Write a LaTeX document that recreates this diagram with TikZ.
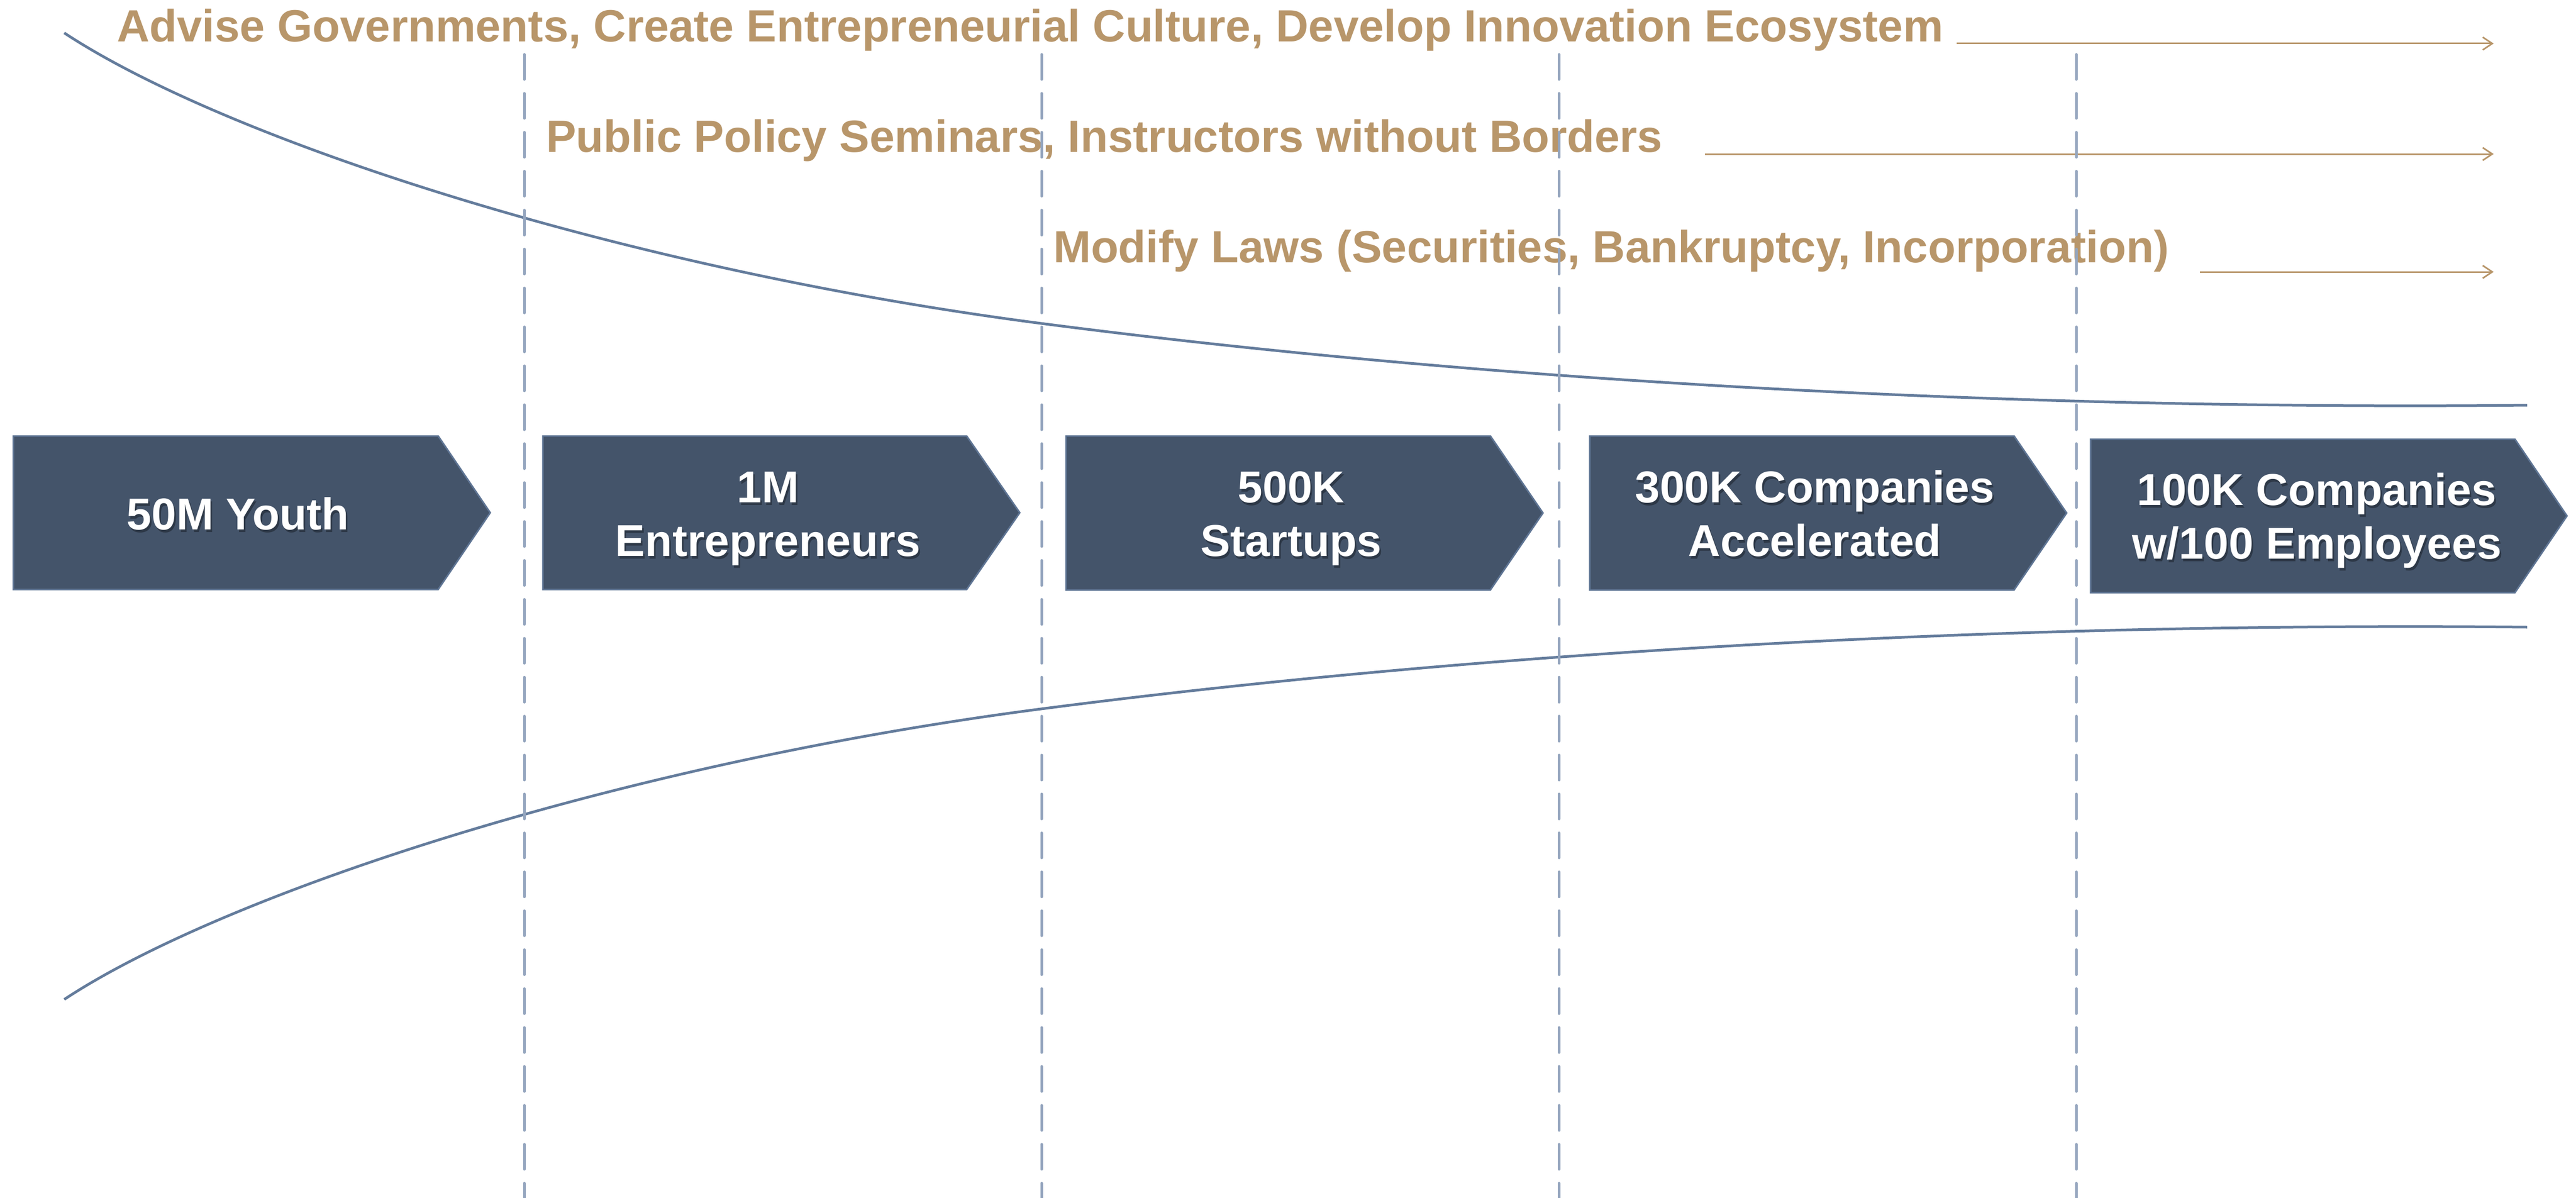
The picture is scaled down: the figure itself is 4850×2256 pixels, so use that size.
\documentclass[tikz,border=0pt]{standalone}
\usepackage{fontspec}
\setmainfont{Liberation Sans}
\usetikzlibrary{arrows.meta}
\definecolor{tancol}{HTML}{B8966A}
\definecolor{boxfill}{HTML}{44546A}
\definecolor{boxedge}{HTML}{5F7594}
\definecolor{curvecol}{HTML}{647C9C}
\definecolor{guidecol}{HTML}{94A5BE}
\begin{document}
\begin{tikzpicture}[x=1pt,y=-1pt,
  toplabel/.style={font=\fontsize{85}{100}\selectfont\bfseries, text=tancol, inner sep=0pt, anchor=base west},
  boxlabel/.style={font=\fontsize{84}{101}\selectfont\bfseries, text=white, inner sep=0pt, align=center, anchor=base},
  shadowlabel/.style={boxlabel, text=black, opacity=0.33},
  chevron/.style={fill=boxfill, draw=boxedge, line width=3pt, line join=miter},
  guide/.style={draw=guidecol, line width=5pt, line cap=round, dash pattern=on 47pt off 26.3pt},
  funnel/.style={draw=curvecol, line width=5pt},
  arr/.style={draw=tancol, line width=3pt, -{Straight Barb[length=18pt,width=24pt]}}]
\useasboundingbox (0,0) rectangle (4850,2256);
\fill[white] (0,0) rectangle (4850,2256);

% funnel curves
\draw[funnel] (121,62) .. controls (421,260) and (1160,505) .. (1960,609)
                       .. controls (2860,726) and (3858,772) .. (4758,763);
\draw[funnel] (121,1882) .. controls (421,1684) and (1160,1439) .. (1960,1335)
                         .. controls (2860,1218) and (3858,1172) .. (4758,1181);

% chevrons
\path[chevron] (25,821) -- (825,821) -- (923,965.5) -- (825,1110) -- (25,1110) -- cycle;
\path[chevron] (1022,821) -- (1820,821) -- (1920,965.5) -- (1820,1110) -- (1022,1110) -- cycle;
\path[chevron] (2007,821) -- (2806,821) -- (2905,966) -- (2806,1111) -- (2007,1111) -- cycle;
\path[chevron] (2993,821) -- (3792,821) -- (3891,966) -- (3792,1111) -- (2993,1111) -- cycle;
\path[chevron] (3936,827) -- (4735,827) -- (4833,971.5) -- (4735,1116) -- (3936,1116) -- cycle;

% box labels with shadows (anchor=base is the last line's baseline)
\node[shadowlabel] (s1) at (451,1002) {50M Youth};
\node[boxlabel] (b1) at (448,997) {50M Youth};
\node[shadowlabel] (s2) at (1449,1052) {1M\\Entrepreneurs};
\node[boxlabel] (b2) at (1446,1047) {1M\\Entrepreneurs};
\node[shadowlabel] (s3) at (2434,1052) {500K\\Startups};
\node[boxlabel] (b3) at (2431,1047) {500K\\Startups};
\node[shadowlabel] (s4) at (3420,1052) {300K Companies\\Accelerated};
\node[boxlabel] (b4) at (3417,1047) {300K Companies\\Accelerated};
\node[shadowlabel] (s5) at (4365,1057) {100K Companies\\w/100 Employees};
\node[boxlabel] (b5) at (4362,1052) {100K Companies\\w/100 Employees};

% top labels and arrows
\node[toplabel] (t1) at (220,79) {Advise Governments, Create Entrepreneurial Culture, Develop Innovation Ecosystem};
\node[toplabel] (t2) at (1028,286) {Public Policy Seminars, Instructors without Borders};
\node[toplabel] (t3) at (1983,494) {Modify Laws (Securities, Bankruptcy, Incorporation)};
\coordinate (a1s) at (3684,82);  \coordinate (a1e) at (4695,82);
\coordinate (a2s) at (3210,290); \coordinate (a2e) at (4695,290);
\coordinate (a3s) at (4142,512); \coordinate (a3e) at (4695,512);
\draw[arr] (a1s) -- (a1e);
\draw[arr] (a2s) -- (a2e);
\draw[arr] (a3s) -- (a3e);

% dashed stage separators
\foreach \gx in {987,1961,2935,3909} {
  \draw[guide] (\gx,102.5) -- (\gx,2256);
}
\end{tikzpicture}
\end{document}
